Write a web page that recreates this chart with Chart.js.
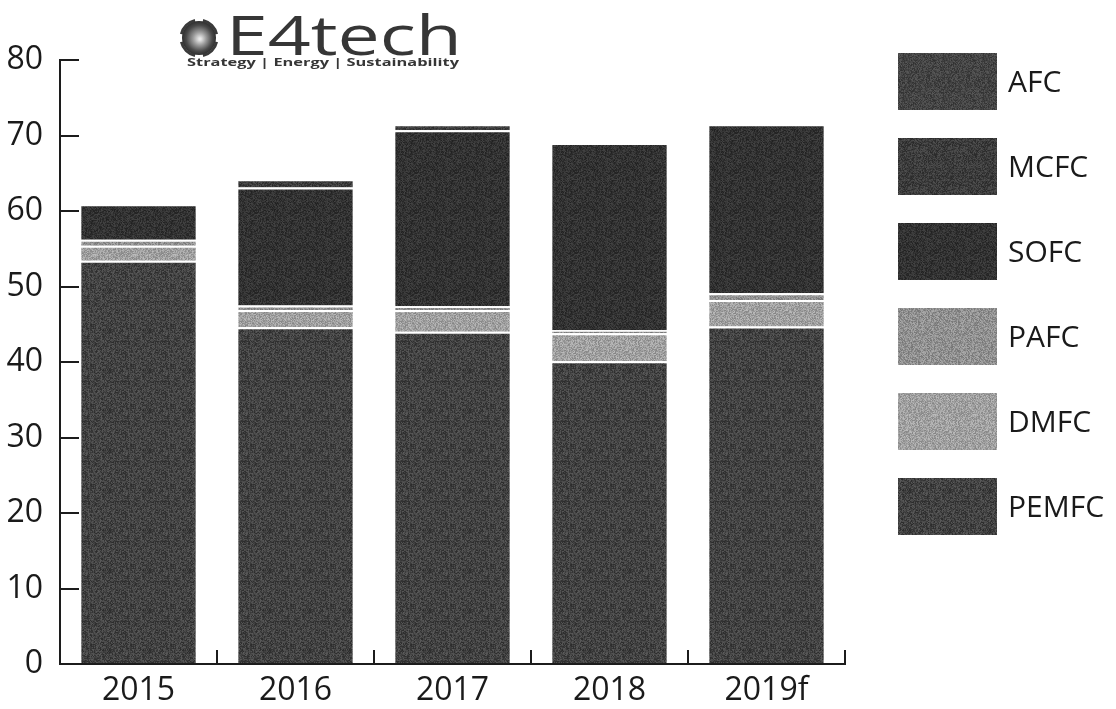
<!DOCTYPE html>
<html><head><meta charset="utf-8">
<script src="https://cdn.jsdelivr.net/npm/chart.js@4.4.1/dist/chart.umd.min.js"></script>
<style>html,body{margin:0;padding:0;background:#fff;overflow:hidden}</style>
</head><body>
<canvas id="c" width="1116" height="709"></canvas>
<script>
// ---- data (thousand units) ----
const categories = ['2015', '2016', '2017', '2018', '2019f'];
const PEMFC = [53.4, 44.6, 44.0, 40.1, 44.7];
const DMFC  = [2.0, 2.3, 2.9, 3.7, 3.5];
const PAFC  = [0.8, 0.6, 0.5, 0.4, 0.9];
const SOFC  = [4.7, 15.6, 23.3, 24.8, 22.4];
const MCFC  = [0, 1.1, 0.8, 0, 0];
const AFC   = [0, 0, 0, 0, 0];
const yTicks = [0, 10, 20, 30, 40, 50, 60, 70, 80];
const seriesNames = ['PEMFC', 'DMFC', 'PAFC', 'SOFC', 'MCFC', 'AFC'];

const canvas = document.getElementById('c');
const mainCtx = canvas.getContext('2d');
const FONT = '"Open Sans", "DejaVu Sans", sans-serif';

// deterministic grain texture to mimic the scanned print
function grain(base, amp, seed) {
  const n = 40;
  const c = document.createElement('canvas'); c.width = n; c.height = n;
  const g = c.getContext('2d');
  const img = g.createImageData(n, n);
  for (let i = 0; i < n * n; i++) {
    let h = Math.sin((i + seed * 131) * 12.9898 + seed) * 43758.5453;
    h = h - Math.floor(h);
    const v = Math.max(0, Math.min(255, Math.round(base + (h - 0.5) * 2 * amp)));
    img.data[i * 4] = v; img.data[i * 4 + 1] = v; img.data[i * 4 + 2] = v; img.data[i * 4 + 3] = 255;
  }
  g.putImageData(img, 0, 0);
  return mainCtx.createPattern(c, 'repeat');
}
const fills = {
  PEMFC: grain(66, 24, 1),
  DMFC: grain(160, 28, 2),
  PAFC: grain(144, 28, 3),
  SOFC: grain(50, 18, 4),
  MCFC: grain(60, 20, 5),
  AFC: grain(68, 20, 6)
};
const values = { PEMFC, DMFC, PAFC, SOFC, MCFC, AFC };

const datasets = seriesNames.map(name => ({
  label: name,
  data: values[name],
  backgroundColor: fills[name],
  borderColor: '#ffffff',
  borderWidth: { top: 2, left: 0, right: 0, bottom: 0 },
  borderSkipped: false,
  barPercentage: 0.73,
  categoryPercentage: 1.0
}));

const axesPlugin = {
  id: 'axes',
  afterDatasetsDraw(chart) {
    const { ctx, chartArea: a, scales: { x, y } } = chart;
    ctx.save();
    ctx.strokeStyle = '#1c1c1c';
    ctx.lineWidth = 2;
    ctx.lineCap = 'square';
    const top = y.getPixelForValue(yTicks[yTicks.length - 1]);
    ctx.beginPath();
    ctx.moveTo(a.left, top); ctx.lineTo(a.left, a.bottom); ctx.lineTo(a.right, a.bottom);
    ctx.stroke();
    ctx.beginPath();
    yTicks.forEach(v => {
      if (v === 0) return;
      const py = Math.round(y.getPixelForValue(v));
      ctx.moveTo(a.left, py); ctx.lineTo(a.left + 18, py);
    });
    const half = (x.getPixelForValue(1) - x.getPixelForValue(0)) / 2;
    categories.forEach((c, i) => {
      const px = Math.round(x.getPixelForValue(i) + half);
      ctx.moveTo(px, a.bottom); ctx.lineTo(px, a.bottom - 13);
    });
    ctx.stroke();
    ctx.restore();
  }
};

const legendPlugin = {
  id: 'sideLegend',
  afterDraw(chart) {
    const { ctx } = chart;
    ctx.save();
    const items = chart.data.datasets.slice().reverse();
    items.forEach((ds, i) => {
      const top = 53 + i * 85;
      ctx.fillStyle = ds.backgroundColor;
      ctx.fillRect(898, top, 99, 57);
      ctx.fillStyle = '#1a1a1a';
      ctx.font = '30px ' + FONT;
      ctx.textAlign = 'left';
      ctx.textBaseline = 'middle';
      ctx.fillText(ds.label, 1008, top + 30);
    });
    ctx.restore();
  }
};

const logoPlugin = {
  id: 'logo',
  afterDraw(chart) {
    const { ctx } = chart;
    ctx.save();
    // globe icon
    const cx = 199, cy = 38, r = 17;
    const grad = ctx.createRadialGradient(cx + 1, cy + 1, 1, cx, cy, r);
    grad.addColorStop(0, '#e8e8e8');
    grad.addColorStop(0.35, '#9a9a9a');
    grad.addColorStop(0.75, '#4a4a4a');
    grad.addColorStop(1, '#2e2e2e');
    ctx.fillStyle = grad;
    ctx.beginPath(); ctx.arc(cx, cy, r, 0, Math.PI * 2); ctx.fill();
    ctx.strokeStyle = '#3a3a3a';
    ctx.lineWidth = 3;
    for (let k = 0; k < 4; k++) {
      const s = k * Math.PI / 2 + 0.22, e = (k + 1) * Math.PI / 2 - 0.22;
      ctx.beginPath(); ctx.arc(cx, cy, r + 1, s, e); ctx.stroke();
    }
    // wordmark
    ctx.fillStyle = '#363636';
    ctx.textBaseline = 'alphabetic';
    ctx.textAlign = 'left';
    ctx.font = '400 55px ' + FONT;
    let w = ctx.measureText('E4tech').width;
    ctx.save(); ctx.translate(226, 55); ctx.scale(236 / w, 1); ctx.fillText('E4tech', 0, 0); ctx.restore();
    ctx.font = '700 10px ' + FONT;
    const sub = 'Strategy | Energy | Sustainability';
    w = ctx.measureText(sub).width;
    ctx.save(); ctx.translate(187, 66); ctx.scale(272 / w, 1); ctx.fillText(sub, 0, 0); ctx.restore();
    ctx.restore();
  }
};

new Chart(canvas, {
  type: 'bar',
  data: { labels: categories, datasets },
  options: {
    responsive: false,
    animation: false,
    devicePixelRatio: 1,
    layout: { padding: { left: 0, top: 60, right: 271, bottom: 0 } },
    plugins: { legend: { display: false }, tooltip: { enabled: false } },
    scales: {
      x: {
        stacked: true,
        offset: true,
        grid: { display: false },
        border: { display: false },
        ticks: { color: '#1a1a1a', font: { family: FONT, size: 32 }, padding: 0, maxRotation: 0 },
        afterFit(s) { s.height = 45; }
      },
      y: {
        stacked: true,
        min: 0, max: 80,
        grid: { display: false },
        border: { display: false },
        afterBuildTicks(s) { s.ticks = yTicks.map(v => ({ value: v })); },
        ticks: { color: '#1a1a1a', font: { family: FONT, size: 32 }, padding: 9 },
        afterFit(s) { s.width = 60; }
      }
    }
  },
  plugins: [axesPlugin, legendPlugin, logoPlugin]
});
</script>
</body></html>
